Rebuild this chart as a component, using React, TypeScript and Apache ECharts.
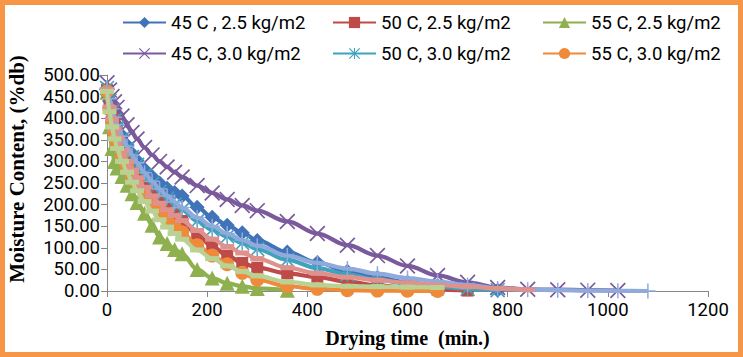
import React, { useEffect, useRef } from "react";
import * as echarts from "echarts";

// time axis (min.)
const TIME = [0, 5, 10, 15, 20, 30, 40, 50, 60, 75, 90, 105, 120, 135, 150, 180, 210, 240, 270, 300, 360, 420, 480, 540, 600, 660, 720, 780, 840, 900, 960, 1020, 1080];

const SERIES_NAMES = [
  "45 C , 2.5 kg/m2",
  "50 C, 2.5 kg/m2",
  "55 C, 2.5 kg/m2",
  "45 C, 3.0 kg/m2",
  "50 C, 3.0 kg/m2",
  "55 C, 3.0 kg/m2",
];

// moisture content (%db)
const MC_45_25 = [468, 440, 420, 400, 385, 360, 338, 318, 302, 282, 265, 250, 238, 228, 220, 194, 171, 152, 135, 117, 90, 66, 46, 31, 20, 12, 6, 2];
const MC_50_25 = [465, 430, 405, 385, 365, 335, 310, 290, 272, 250, 230, 212, 195, 178, 162, 130, 103, 82, 65, 54, 41, 32, 22, 13, 7, 3, 1];
const MC_55_25 = [460, 380, 330, 300, 285, 265, 245, 225, 205, 180, 152, 125, 110, 96, 86, 50, 30, 18, 11, 6, 2];
const MC_45_30 = [482, 465, 450, 438, 425, 405, 385, 367, 352, 332, 315, 300, 287, 275, 264, 244, 227, 212, 198, 186, 161, 133, 106, 82, 58, 36, 20, 8, 4, 3, 2, 1];
const MC_50_30 = [470, 440, 415, 395, 378, 352, 330, 310, 292, 268, 248, 230, 214, 200, 188, 162, 142, 126, 111, 97, 72, 53, 38, 26, 17, 10, 5, 2];
const MC_55_30 = [462, 420, 390, 365, 345, 315, 290, 268, 250, 225, 203, 183, 166, 150, 136, 106, 82, 62, 42, 26, 11, 5, 2, 1, 0.5, 0];

// extra (unlabelled) series drawn in lighter tints
const EXTRA_A = [470, 445, 422, 402, 385, 358, 335, 315, 297, 274, 254, 236, 220, 206, 193, 170, 150, 133, 118, 105, 82, 65, 52, 40, 30, 22, 14, 6, 3, 2, 1, 0.5, 0];
const EXTRA_B = [465, 425, 398, 375, 355, 325, 300, 280, 262, 240, 220, 203, 188, 175, 163, 140, 120, 103, 88, 75, 54, 41, 32, 25, 19, 14, 10, 6, 3];
const EXTRA_C = [462, 415, 380, 352, 330, 300, 275, 252, 232, 207, 185, 165, 148, 133, 120, 95, 75, 58, 45, 35, 21, 14, 11, 10, 9, 8];

const Y_TICKS = [0, 50, 100, 150, 200, 250, 300, 350, 400, 450, 500];
const X_TICKS = [0, 200, 400, 600, 800, 1000, 1200];

const X_SYM = "path://M0,1.5 L1.5,0 L20,18.5 L18.5,20 Z M18.5,0 L20,1.5 L1.5,20 L0,18.5 Z";
const STAR_SYM = "path://M0,1.5 L1.5,0 L20,18.5 L18.5,20 Z M18.5,0 L20,1.5 L1.5,20 L0,18.5 Z M9.1,0 L10.9,0 L10.9,20 L9.1,20 Z";
const PLUS_SYM = "path://M9,0 L11,0 L11,20 L9,20 Z M0,9 L20,9 L20,11 L0,11 Z";

const pts = (vals: number[]) => vals.map((v, i) => [TIME[i], v]);

export default function App() {
  const ref = useRef<HTMLDivElement>(null);
  useEffect(() => {
    if (!ref.current) return;
    const chart = echarts.init(ref.current, undefined, { renderer: "svg" });
    const lineW = 4.2;
    const mk = (name: string, vals: number[], color: string, symbol: string, size: any, z = 2) => ({
      name,
      type: "line",
      data: pts(vals),
      smooth: 0.35,
      smoothMonotone: "x",
      symbol,
      symbolSize: size,
      showAllSymbol: true,
      lineStyle: { color, width: lineW },
      itemStyle: { color, borderWidth: 0 },
      z,
    });
    const legendPos = [
      [117, 8], [327, 8], [537, 8],
      [117, 39], [327, 39], [537, 39],
    ];
    const option: any = {
      animation: false,
      backgroundColor: "#ffffff",
      grid: { left: 107, right: 35, top: 75, bottom: 66 },
      legend: SERIES_NAMES.map((n, i) => ({
        data: [n],
        left: legendPos[i][0],
        top: legendPos[i][1],
        itemWidth: 43,
        itemHeight: 14,
        itemGap: 5,
        selectedMode: false,
        textStyle: { fontFamily: "Roboto", fontSize: 18.5, color: "#000" },
      })),
      xAxis: {
        type: "value",
        min: 0,
        max: 1200,
        interval: 200,
        name: "Drying time  (min.)",
        nameLocation: "middle",
        nameGap: 37,
        nameTextStyle: { fontFamily: "Liberation Serif", fontWeight: "bold", fontSize: 20, color: "#000" },
        axisLine: { lineStyle: { color: "#868686", width: 1 } },
        axisTick: { show: true, length: 6, lineStyle: { color: "#868686" } },
        axisLabel: { fontFamily: "Roboto", fontSize: 18.5, color: "#000", margin: 9, formatter: (v: number) => (X_TICKS.includes(v) ? String(v) : "") },
        splitLine: { show: false },
      },
      yAxis: {
        type: "value",
        min: 0,
        max: 500,
        interval: 50,
        axisLine: { show: true, lineStyle: { color: "#868686", width: 1 } },
        axisTick: { show: true, length: 6, lineStyle: { color: "#868686" } },
        axisLabel: { fontFamily: "Roboto", fontSize: 18.5, color: "#000", margin: 7, formatter: (v: number) => (Y_TICKS.includes(v) ? v.toFixed(2) : "") },
        splitLine: { show: false },
      },
      graphic: [
        {
          type: "text",
          x: 17,
          y: 169,
          rotation: Math.PI / 2,
          z: 1,
          style: {
            text: "Moisture Content, (%db)",
            font: "bold 21px 'Liberation Serif'",
            fill: "#000",
            textAlign: "center",
            textVerticalAlign: "middle",
          },
        },
        {
          type: "rect",
          z: 100,
          shape: { x: 2.5, y: 2.5, width: 738, height: 352 },
          style: { fill: "none", stroke: "#F79646", lineWidth: 5 },
          silent: true,
        },
      ],
      series: [
        mk(SERIES_NAMES[0], MC_45_25, "#4173B8", "diamond", 15, 2),
        mk(SERIES_NAMES[1], MC_50_25, "#BE4B48", "rect", 12, 3),
        mk(SERIES_NAMES[2], MC_55_25, "#8EB04E", "triangle", 15, 4),
        mk(SERIES_NAMES[3], MC_45_30, "#7A5A9C", X_SYM, 16, 5),
        mk(SERIES_NAMES[4], MC_50_30, "#3FA3BD", STAR_SYM, 15, 6),
        mk(SERIES_NAMES[5], MC_55_30, "#EE8A3A", "circle", 14, 7),
        mk("extraA", EXTRA_A, "#8FAADB", PLUS_SYM, 15, 8),
        mk("extraB", EXTRA_B, "#DF918D", "rect", [14, 5], 9),
        mk("extraC", EXTRA_C, "#B9D294", "rect", [14, 5], 10),
      ],
    };
    chart.setOption(option);
    return () => chart.dispose();
  }, []);
  return (
    <div
      ref={ref}
      style={{ position: "fixed", left: 0, top: 0, width: 743, height: 357, background: "#fff" }}
    />
  );
}
